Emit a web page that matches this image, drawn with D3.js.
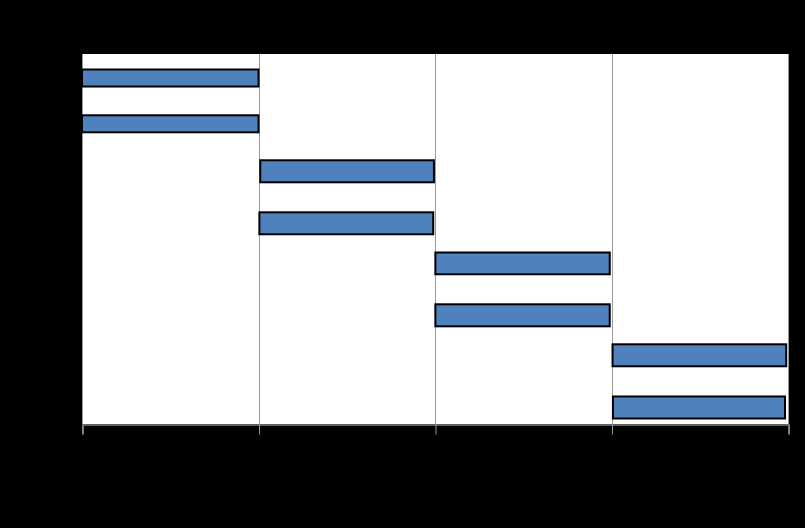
<!DOCTYPE html>
<html>
<head>
<meta charset="utf-8">
<script src="https://cdn.jsdelivr.net/npm/d3@7"></script>
<style>
  html, body { margin: 0; padding: 0; background: #000; }
  svg { display: block; }
</style>
</head>
<body>
<script>
// ---- data ----
const taskNames = ["Task 1", "Task 2", "Task 3", "Task 4", "Task 5", "Task 6", "Task 7", "Task 8"];
const taskStart = [0, 0, 1.01, 1.005, 2.002, 2.002, 3.006, 3.008];
const taskEnd   = [1.0, 1.0, 1.994, 1.99, 2.99, 2.99, 3.99, 3.983];
const laneTop    = [0.335, 1.325, 2.298, 3.423, 4.292, 5.412, 6.277, 7.405];
const laneBottom = [0.703, 1.693, 2.774, 3.898, 4.763, 5.888, 6.752, 7.881];
const periodTicks = [0, 1, 2, 3, 4];

const tasks = taskNames.map((name, i) => ({
  name, start: taskStart[i], end: taskEnd[i], top: laneTop[i], bottom: laneBottom[i]
}));

const W = 805, H = 528;
const margin = { top: 54, right: 17, bottom: 104, left: 82 };

const svg = d3.select("body").append("svg")
  .attr("width", W).attr("height", H)
  .style("background", "#000");

const x = d3.scaleLinear().domain([0, 4]).range([margin.left, W - margin.right]);
const y = d3.scaleLinear().domain([0, 8]).range([margin.top, H - margin.bottom]);

// plot background
svg.append("rect")
  .attr("x", x(0)).attr("y", y(0))
  .attr("width", x(4) - x(0)).attr("height", y(8) - y(0))
  .attr("fill", "#ffffff");

// vertical gridlines
svg.append("g").selectAll("line")
  .data(periodTicks)
  .join("line")
  .attr("x1", d => Math.round(x(d)) + 0.5)
  .attr("x2", d => Math.round(x(d)) + 0.5)
  .attr("y1", y(0))
  .attr("y2", y(8))
  .attr("stroke", "#9a9a9a")
  .attr("stroke-width", 1);

// x axis
const xAxis = d3.axisBottom(x)
  .tickValues(periodTicks)
  .tickSize(10)
  .tickSizeOuter(10)
  .tickFormat(() => "");

const gx = svg.append("g")
  .attr("transform", `translate(0.5,${Math.round(y(8)) + 0.5})`)
  .call(xAxis);
gx.select(".domain").attr("stroke", "#808080").attr("stroke-width", 1.5);
gx.selectAll(".tick line").attr("stroke", "#9a9a9a");

// bars
svg.append("g").selectAll("rect")
  .data(tasks)
  .join("rect")
  .attr("x", d => x(d.start))
  .attr("y", d => y(d.top))
  .attr("width", d => x(d.end) - x(d.start))
  .attr("height", d => y(d.bottom) - y(d.top))
  .attr("fill", "#4f81bd")
  .attr("stroke", "#000")
  .attr("stroke-width", 2);
</script>
</body>
</html>
